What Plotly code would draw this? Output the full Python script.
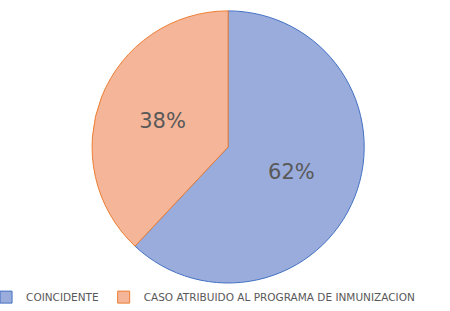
import plotly.graph_objects as go

labels = ["COINCIDENTE", "CASO ATRIBUIDO AL PROGRAMA DE INMUNIZACION"]
values = [62, 38]
fill_colors = ["#9AACDB", "#F4B598"]
line_colors = ["#4472C4", "#ED7D31"]

fig = go.Figure(go.Pie(
    labels=labels,
    values=values,
    sort=False,
    direction="clockwise",
    rotation=0,
    marker=dict(colors=fill_colors, line=dict(color=line_colors, width=1)),
    textinfo="percent",
    texttemplate="%{percent:.0%}",
    textposition="inside",
    insidetextorientation="horizontal",
    textfont=dict(family="DejaVu Sans", size=21, color="#595959"),
    domain=dict(x=[0.014, 1.0], y=[0.09, 0.965]),
))

fig.update_layout(
    width=450, height=311,
    margin=dict(l=0, r=0, t=0, b=0, autoexpand=False),
    paper_bgcolor="white",
    showlegend=True,
    legend=dict(
        orientation="h", x=-0.031, y=-0.002, xanchor="left", yanchor="bottom",
        font=dict(family="DejaVu Sans", size=10.5, color="#595959"),
        bgcolor="rgba(0,0,0,0)",
        itemwidth=30,
    ),
    uniformtext=dict(minsize=10, mode="show"),
)

fig.write_html("out.html", config={"displayModeBar": False},
               post_script="document.body.style.margin='0';")
